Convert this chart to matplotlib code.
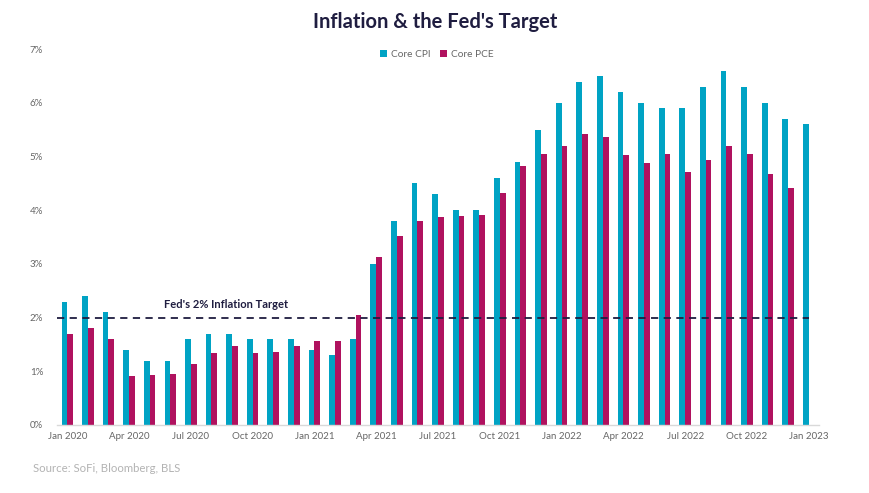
import matplotlib
matplotlib.use("Agg")
import matplotlib.pyplot as plt
import numpy as np

plt.rcParams['font.family'] = ['Lato', 'DejaVu Sans']

months = ["Jan 2020", "Feb 2020", "Mar 2020", "Apr 2020", "May 2020", "Jun 2020",
          "Jul 2020", "Aug 2020", "Sep 2020", "Oct 2020", "Nov 2020", "Dec 2020",
          "Jan 2021", "Feb 2021", "Mar 2021", "Apr 2021", "May 2021", "Jun 2021",
          "Jul 2021", "Aug 2021", "Sep 2021", "Oct 2021", "Nov 2021", "Dec 2021",
          "Jan 2022", "Feb 2022", "Mar 2022", "Apr 2022", "May 2022", "Jun 2022",
          "Jul 2022", "Aug 2022", "Sep 2022", "Oct 2022", "Nov 2022", "Dec 2022",
          "Jan 2023"]
core_cpi = [2.3, 2.4, 2.1, 1.4, 1.2, 1.2, 1.6, 1.7, 1.7, 1.6, 1.6, 1.6,
            1.4, 1.3, 1.6, 3.0, 3.8, 4.5, 4.3, 4.0, 4.0, 4.6, 4.9, 5.5,
            6.0, 6.4, 6.5, 6.2, 6.0, 5.9, 5.9, 6.3, 6.6, 6.3, 6.0, 5.7, 5.6]
core_pce = [1.70, 1.80, 1.61, 0.92, 0.94, 0.95, 1.13, 1.35, 1.47, 1.35, 1.36, 1.47,
            1.56, 1.56, 2.05, 3.13, 3.53, 3.81, 3.87, 3.89, 3.91, 4.32, 4.83, 5.05,
            5.20, 5.42, 5.37, 5.03, 4.88, 5.04, 4.71, 4.94, 5.20, 5.05, 4.68, 4.42]
target = 2.0
target_label = "Fed's 2% Inflation Target"
title = "Inflation & the Fed's Target"
source = "Source: SoFi, Bloomberg, BLS"

CPI_COLOR = "#00A3C4"
PCE_COLOR = "#B0125F"
NAVY = "#1F1D40"

fig = plt.figure(figsize=(8.7, 4.93), dpi=100)
ax = fig.add_axes([57/870, 1-425/493, (819-57)/870, (425-49.3)/493])

x = np.arange(len(months))
w = 0.28
ax.bar(x[:len(core_cpi)] - w/2, core_cpi, width=w, color=CPI_COLOR, label="Core CPI")
ax.bar(x[:len(core_pce)] + w/2, core_pce, width=w, color=PCE_COLOR, label="Core PCE")

ax.plot([-0.5, len(months)-1], [target, target], linestyle=(0, (4, 3)), color=NAVY, lw=1.3)
ax.text(7.7, target + 0.25, target_label, ha='center', va='center',
        fontsize=8, fontweight='bold', color=NAVY)

ax.set_xlim(-0.5, len(months)-0.5)
ax.set_ylim(0, 7)
ax.set_yticks(np.arange(0, 8, 1))
ax.set_yticklabels([f"{v}%" for v in range(8)])
ax.set_xticks(x[::3])
ax.set_xticklabels(months[::3])
ax.tick_params(axis='both', length=0, labelsize=7, colors='#666666')
ax.tick_params(axis='x', pad=5)
ax.tick_params(axis='y', pad=10)
for s in ['top', 'right', 'left']:
    ax.spines[s].set_visible(False)
ax.spines['bottom'].set_color('#D9D9D9')
ax.spines['bottom'].set_linewidth(1)

ax.legend(loc='upper center', bbox_to_anchor=(0.498, 1.022), ncol=2, frameon=False,
          fontsize=7.3, handlelength=0.7, handleheight=0.7, handletextpad=0.4,
          columnspacing=0.9, labelcolor='#666666')

fig.text(435/870, 1-22/493, title, ha='center', va='center', fontsize=14.5,
         fontweight='bold', color=NAVY)
fig.text(33/870, 1-468/493, source, ha='left', va='center', fontsize=8.2, color='#B3B3B3')

fig.savefig("out.png", dpi=100)
